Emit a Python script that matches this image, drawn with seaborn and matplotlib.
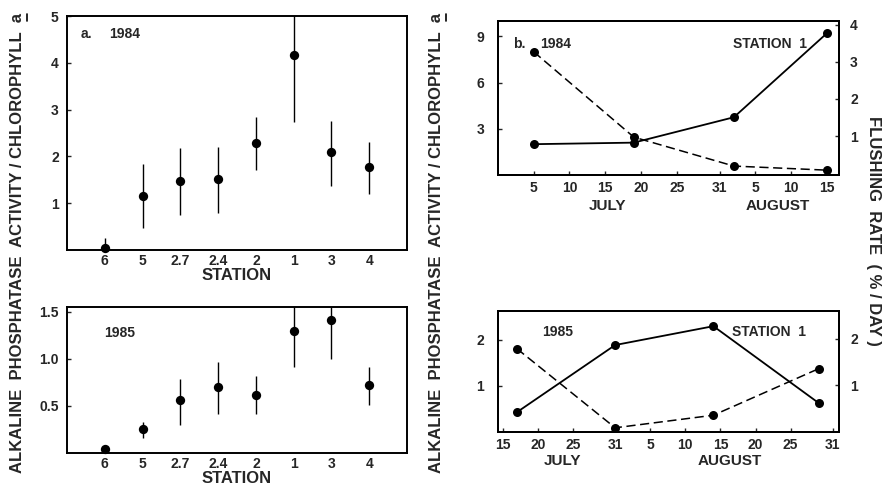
import numpy as np
import pandas as pd
import matplotlib
matplotlib.use("Agg")
import matplotlib.pyplot as plt
from matplotlib.lines import Line2D
import seaborn as sns

# ---------------- data ----------------
stations = ["6", "5", "2.7", "2.4", "2", "1", "3", "4"]
apa_1984 = [0.05, 1.15, 1.47, 1.52, 2.28, 4.17, 2.10, 1.78]
apa_1984_lo = [0.0, 0.47, 0.75, 0.80, 1.70, 2.73, 1.37, 1.20]
apa_1984_hi = [0.25, 1.83, 2.17, 2.20, 2.85, 5.20, 2.75, 2.30]

apa_1985 = [0.04, 0.26, 0.56, 0.70, 0.62, 1.29, 1.41, 0.72]
apa_1985_lo = [0.04, 0.16, 0.30, 0.41, 0.41, 0.91, 1.00, 0.51]
apa_1985_hi = [0.04, 0.33, 0.79, 0.97, 0.82, 1.70, 1.70, 0.91]

dates_1984 = ["1984-07-05", "1984-07-19", "1984-08-02", "1984-08-15"]
ratio_1984 = [2.0, 2.1, 3.75, 9.2]
flush_1984 = [3.27, 0.97, 0.19, 0.08]

dates_1985 = ["1985-07-17", "1985-07-31", "1985-08-14", "1985-08-29"]
ratio_1985 = [0.43, 1.89, 2.30, 0.63]
flush_1985 = [1.79, 0.09, 0.36, 1.36]

ticks_1984 = ["07-05", "07-10", "07-15", "07-20", "07-25", "07-31", "08-05", "08-10", "08-15"]
ticks_1985 = ["07-15", "07-20", "07-25", "07-31", "08-05", "08-10", "08-15", "08-20", "08-25", "08-31"]

# ---------------- style ----------------
sns.set_style("ticks")
FONT = ["Liberation Sans", "DejaVu Sans"]
plt.rcParams["font.family"] = FONT
plt.rcParams["font.weight"] = "bold"

fig = plt.figure(figsize=(8.87, 4.9), dpi=100)

def day_num(datestr, year):
    d = pd.Timestamp(datestr)
    return (d - pd.Timestamp(f"{year}-06-30")).days

def style_axes(ax):
    for s in ax.spines.values():
        s.set_linewidth(1.4)
        s.set_color("black")
        s.set_visible(True)
    ax.tick_params(direction="in", length=3, width=1, labelsize=10, pad=4)
    for lab in ax.get_xticklabels() + ax.get_yticklabels():
        lab.set_fontweight("bold")

def station_panel(rect, vals, lo, hi, ylim, yticks, yticklabels):
    ax = fig.add_axes(rect)
    x = np.arange(len(stations))
    df = pd.DataFrame({"x": x, "y": vals})
    ax.vlines(x, lo, hi, color="black", linewidth=1.0)
    sns.scatterplot(data=df, x="x", y="y", ax=ax, color="black", s=45,
                    edgecolor="black", linewidth=0, zorder=3, clip_on=False)
    ax.set_xlim(-1, len(stations))
    ax.set_ylim(*ylim)
    ax.set_xticks(x)
    ax.set_xticklabels(stations)
    ax.set_yticks(yticks)
    ax.set_yticklabels(yticklabels)
    ax.set_xlabel("STATION", fontsize=12, fontweight="bold", labelpad=0)
    ax.set_ylabel("")
    style_axes(ax)
    ax.tick_params(axis="x", length=0, pad=3)
    ax.tick_params(axis="y", pad=6)
    return ax

ax1 = station_panel([0.0755, 0.4898, 0.3834, 0.4775], apa_1984, apa_1984_lo, apa_1984_hi,
                    (0, 5), [1, 2, 3, 4, 5], ["1", "2", "3", "4", "5"])
ax1.text(0.04, 0.925, "a.", transform=ax1.transAxes, fontsize=10, fontweight="bold", va="center")
ax1.text(0.125, 0.925, "1984", transform=ax1.transAxes, fontsize=10, fontweight="bold", va="center")

ax2 = station_panel([0.0755, 0.0755, 0.3834, 0.298], apa_1985, apa_1985_lo, apa_1985_hi,
                    (0, 1.55), [0.5, 1.0, 1.5], ["0.5", "1.0", "1.5"])
ax2.text(0.11, 0.82, "1985", transform=ax2.transAxes, fontsize=10, fontweight="bold", va="center")

def time_panel(rect, dates, year, ratio, flush, ylim_l, yt_l, ylim_r, yt_r, ticks, xlim):
    ax = fig.add_axes(rect)
    xd = [day_num(d, year) for d in dates]
    df = pd.DataFrame({"day": xd, "ratio": ratio, "flush": flush})
    sns.lineplot(data=df, x="day", y="ratio", ax=ax, color="black", linewidth=1.3,
                 marker="o", markersize=6.5, markeredgewidth=0, zorder=3)
    ax.set_xlim(*xlim)
    ax.set_ylim(*ylim_l)
    ax.set_yticks(yt_l)
    tpos = [day_num(f"{year}-{t}", year) for t in ticks]
    ax.set_xticks(tpos)
    ax.set_xticklabels([str(int(t.split("-")[1])) for t in ticks])
    ax.set_xlabel("")
    ax.set_ylabel("")
    style_axes(ax)
    ax.tick_params(axis="y", pad=10)
    ax2r = ax.twinx()
    sns.lineplot(data=df, x="day", y="flush", ax=ax2r, color="black", linewidth=1.1,
                 marker="o", markersize=6.5, markeredgewidth=0, zorder=3)
    ax2r.lines[0].set_dashes((6, 3))
    ax2r.set_ylim(*ylim_r)
    ax2r.set_yticks(yt_r)
    ax2r.set_ylabel("")
    style_axes(ax2r)
    ax2r.tick_params(axis="y", pad=8)
    return ax, ax2r

ax3, ax3r = time_panel([0.5614, 0.6429, 0.3845, 0.3143], dates_1984, 1984, ratio_1984, flush_1984,
                       (0, 10), [3, 6, 9], (-0.05, 4.1), [1, 2, 3, 4], ticks_1984, (0, 47.7))
ax3.text(0.045, 0.85, "b.", transform=ax3.transAxes, fontsize=10, fontweight="bold", va="center")
ax3.text(0.125, 0.85, "1984", transform=ax3.transAxes, fontsize=10, fontweight="bold", va="center")
ax3.text(0.69, 0.85, "STATION  1", transform=ax3.transAxes, fontsize=10, fontweight="bold", va="center")
ax3.text(0.32, -0.2, "JULY", transform=ax3.transAxes, fontsize=11, fontweight="bold", ha="center", va="center")
ax3.text(0.82, -0.2, "AUGUST", transform=ax3.transAxes, fontsize=11, fontweight="bold", ha="center", va="center")

ax4, ax4r = time_panel([0.5614, 0.1184, 0.3845, 0.2469], dates_1985, 1985, ratio_1985, flush_1985,
                       (0, 2.63), [1, 2], (0, 2.6), [1, 2], ticks_1985, (14.3, 62.9))
ax4.text(0.13, 0.83, "1985", transform=ax4.transAxes, fontsize=10, fontweight="bold", va="center")
ax4.text(0.685, 0.83, "STATION  1", transform=ax4.transAxes, fontsize=10, fontweight="bold", va="center")
ax4.text(0.19, -0.24, "JULY", transform=ax4.transAxes, fontsize=11, fontweight="bold", ha="center", va="center")
ax4.text(0.68, -0.24, "AUGUST", transform=ax4.transAxes, fontsize=11, fontweight="bold", ha="center", va="center")

ylab = "ALKALINE  PHOSPHATASE  ACTIVITY / CHLOROPHYLL  a"
labels = []
for xp in (18, 437):
    t = fig.text(xp / 887, 1 - 243 / 490, ylab, rotation=90, ha="center", va="center",
                 fontsize=12, fontweight="bold")
    labels.append(t)
fig.text(874 / 887, 1 - 231 / 490, "FLUSHING  RATE  ( % / DAY )", rotation=270,
         ha="center", va="center", fontsize=12, fontweight="bold")

# underline the final "a" of the rotated labels
fig.canvas.draw()
W, H = fig.bbox.width, fig.bbox.height
for t in labels:
    bb = t.get_window_extent()
    x_u = (bb.x1 + 1.5) / W
    fig.add_artist(Line2D([x_u, x_u], [(bb.y1 - 8) / H, (bb.y1 - 1) / H],
                          transform=fig.transFigure, color="black", linewidth=1.2))

fig.savefig("out.png", dpi=100)
